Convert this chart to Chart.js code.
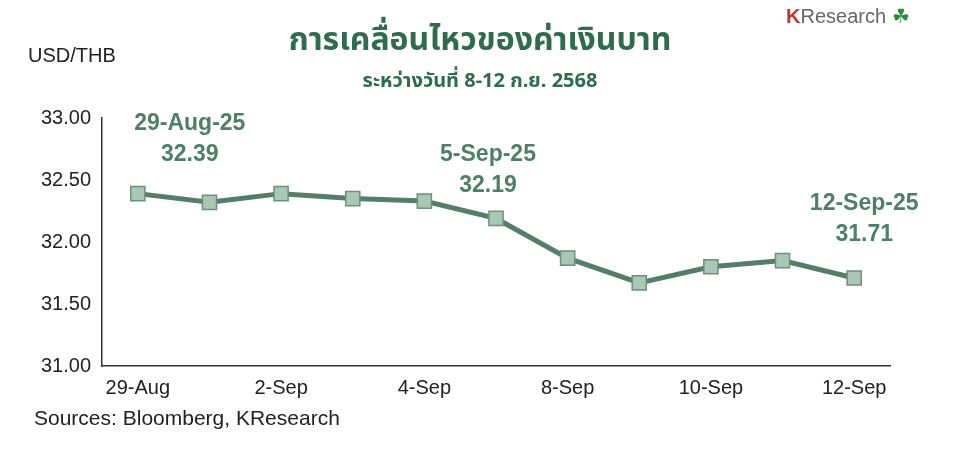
<!DOCTYPE html>
<html>
<head>
<meta charset="utf-8">
<script src="https://cdn.jsdelivr.net/npm/chart.js@4"></script>
<style>
  body { margin: 0; background: #fff; font-family: Arial, "Liberation Sans", sans-serif; }
  #wrap { position: relative; width: 960px; height: 458px; }
  canvas { position: absolute; left: 0; top: 0; }
  .t { position: absolute; white-space: nowrap; }
  #title { left: 0; width: 960px; top: 16px; text-align: center; font: bold 32px "Noto Sans Thai", "Noto Sans", sans-serif; color: #2f6b4f; }
  #sub { left: 0; width: 960px; top: 66px; text-align: center; font: bold 20px "Noto Sans Thai", "Noto Sans", sans-serif; color: #2f6b4f; }
  #unit { left: 28px; top: 44px; font-size: 20px; color: #222; }
  #src { left: 34px; top: 406px; font-size: 21px; color: #222; }
  #logo { left: 786px; top: 4px; font-size: 20px; color: #666; }
  #logo b { color: #c0392b; }
</style>
</head>
<body>
<div id="wrap">
  <canvas id="c" width="960" height="458"></canvas>
  <div class="t" id="title">การเคลื่อนไหวของค่าเงินบาท</div>
  <div class="t" id="sub">ระหว่างวันที่ 8-12 ก.ย. 2568</div>
  <div class="t" id="unit">USD/THB</div>
  <div class="t" id="src">Sources: Bloomberg, KResearch</div>
  <div class="t" id="logo"><b>K</b>Research <span style="color:#2e8b3e">☘</span></div>
</div>
<script>
const dates  = ['29-Aug', '1-Sep', '2-Sep', '3-Sep', '4-Sep', '5-Sep', '8-Sep', '9-Sep', '10-Sep', '11-Sep', '12-Sep'];
const rates  = [32.39, 32.32, 32.39, 32.35, 32.33, 32.19, 31.87, 31.67, 31.80, 31.85, 31.71];
const yTicks = [31.00, 31.50, 32.00, 32.50, 33.00];
const notes  = [
  { i: 0,  lines: ['29-Aug-25', '32.39'], dx: 52, dy: -70 },
  { i: 5,  lines: ['5-Sep-25', '32.19'],  dx: -8, dy: -64 },
  { i: 10, lines: ['12-Sep-25', '31.71'], dx: 10, dy: -74 },
];

const notePlugin = {
  id: 'notes',
  afterDraw(chart) {
    const { ctx, scales: { x, y } } = chart;
    ctx.save();
    ctx.fillStyle = '#4f7f68';
    ctx.font = 'bold 23px Arial, "Liberation Sans"';
    ctx.textAlign = 'center';
    ctx.textBaseline = 'middle';
    notes.forEach(n => {
      const px = x.getPixelForValue(n.i) + n.dx;
      const py = y.getPixelForValue(rates[n.i]) + n.dy;
      n.lines.forEach((s, k) => ctx.fillText(s, px, py + k * 31));
    });
    ctx.restore();
  },
};

new Chart(document.getElementById('c'), {
  type: 'line',
  data: {
    labels: dates,
    datasets: [{
      data: rates,
      borderColor: '#557d69',
      borderWidth: 5,
      pointStyle: 'rect',
      pointRadius: 10,
      pointBackgroundColor: '#a9c7b6',
      pointBorderColor: '#6f8f7f',
      pointBorderWidth: 1.5,
      tension: 0,
    }],
  },
  options: {
    responsive: false,
    animation: false,
    layout: { padding: { left: 14, right: 70, top: 118, bottom: 56 } },
    plugins: { legend: { display: false }, tooltip: { enabled: false } },
    scales: {
      x: {
        offset: true,
        grid: { display: false },
        border: { color: '#333', width: 1.5 },
        ticks: {
          color: '#222', font: { size: 20, family: 'Arial, "Liberation Sans"' },
          maxRotation: 0, autoSkip: false, padding: 2,
          callback: (v, i) => i % 2 === 0 ? dates[i] : '',
        },
      },
      y: {
        min: 31, max: 33,
        afterBuildTicks: s => { s.ticks = yTicks.map(v => ({ value: v })); },
        afterFit: s => { s.width = 88; },
        grid: { display: false },
        border: { color: '#333', width: 1.5 },
        ticks: {
          color: '#222', font: { size: 20, family: 'Arial, "Liberation Sans"' },
          callback: v => v.toFixed(2),
        },
      },
    },
  },
  plugins: [notePlugin],
});
</script>
</body>
</html>
